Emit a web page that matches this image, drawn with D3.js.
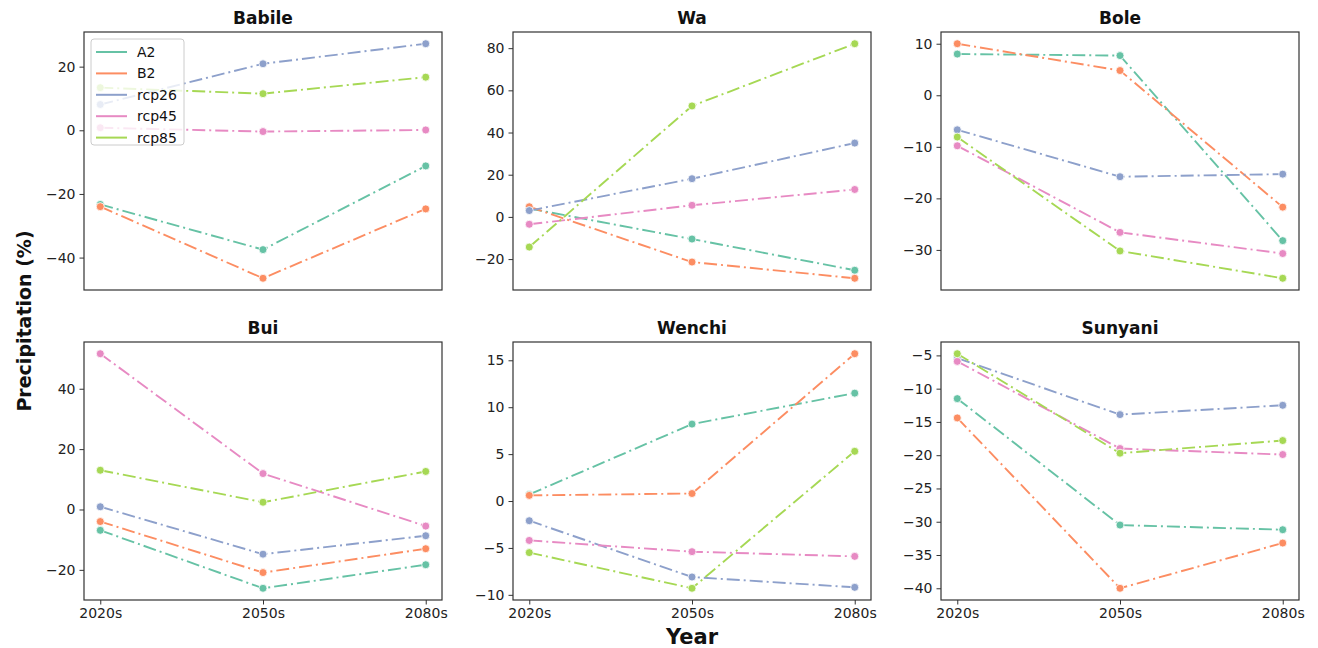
<!DOCTYPE html>
<html>
<head>
<meta charset="utf-8">
<script src="https://cdn.jsdelivr.net/npm/d3@7"></script>
<style>
  body { margin: 0; background: #fff; }
  svg { display: block; font-family: "DejaVu Sans", sans-serif; }
</style>
</head>
<body>
<div id="chart"></div>
<script>
// categories
const years = ["2020s", "2050s", "2080s"];
const scenarios = ["A2", "B2", "rcp26", "rcp45", "rcp85"];
const stations = ["Babile", "Wa", "Bole", "Bui", "Wenchi", "Sunyani"];
const colors = ["#66c2a5", "#fc8d62", "#8da0cb", "#e78ac3", "#a6d854"];

// precipitation change (%) per scenario, values for 2020s / 2050s / 2080s
const babile = [[-23.3, -37.5, -11.2], [-24.0, -46.5, -24.7], [8.1, 20.9, 27.2], [0.8, -0.4, 0.1], [13.4, 11.5, 16.7]];
const wa = [[4.0, -10.5, -25.3], [4.8, -21.4, -29.1], [3.0, 18.1, 35.0], [-3.5, 5.5, 13.0], [-14.3, 52.6, 82.1]];
const bole = [[8.0, 7.7, -28.2], [10.0, 4.8, -21.7], [-6.7, -15.8, -15.3], [-9.8, -26.6, -30.7], [-8.1, -30.2, -35.5]];
const bui = [[-6.9, -26.1, -18.3], [-4.0, -20.9, -13.0], [0.9, -14.8, -8.7], [51.6, 11.9, -5.5], [13.0, 2.4, 12.6]];
const wenchi = [[0.7, 8.2, 11.5], [0.6, 0.8, 15.7], [-2.1, -8.1, -9.2], [-4.2, -5.4, -5.9], [-5.5, -9.3, 5.3]];
const sunyani = [[-11.5, -30.5, -31.2], [-14.4, -40.0, -33.2], [-5.4, -13.9, -12.5], [-5.9, -19.0, -19.9], [-4.75, -19.7, -17.8]];

// y tick values per panel
const babileTicks = [-40, -20, 0, 20];
const waTicks = [-20, 0, 20, 40, 60, 80];
const boleTicks = [-30, -20, -10, 0, 10];
const buiTicks = [-20, 0, 20, 40];
const wenchiTicks = [-10, -5, 0, 5, 10, 15];
const sunyaniTicks = [-40, -35, -30, -25, -20, -15, -10, -5];

const panelValues = [babile, wa, bole, bui, wenchi, sunyani];
const panelTicks = [babileTicks, waTicks, boleTicks, buiTicks, wenchiTicks, sunyaniTicks];

const W = 1318, H = 648;
const colLeft = [84, 513, 941];
const rowTop = [32, 342];
const pw = 358, ph = 258;
const font = "DejaVu Sans, sans-serif";

const svg = d3.select("#chart").append("svg")
    .attr("width", W)
    .attr("height", H);

function styleAxis(axisG) {
    axisG.attr("font-family", font);
    axisG.select(".domain").remove();
    axisG.selectAll("line").attr("stroke", "#333").attr("stroke-width", 1);
    axisG.selectAll("text").attr("font-size", 14).attr("fill", "#222");
}

function drawPanel(i) {
    const col = i % 3, row = Math.floor(i / 3);
    const values = panelValues[i];
    const g = svg.append("g")
        .attr("class", "panelG")
        .attr("transform", "translate(" + colLeft[col] + "," + rowTop[row] + ")");

    // matplotlib style 5% margins on both axes
    const xm = pw * 0.1 / 2.2;
    const xScale = d3.scalePoint().domain(years).range([xm, pw - xm]);
    const all = values.flat();
    const lo = d3.min(all), hi = d3.max(all);
    const pad = (hi - lo) * 0.05;
    const yScale = d3.scaleLinear().domain([lo - pad, hi + pad]).range([ph, 0]);

    g.append("g")
        .attr("class", "yAxisG")
        .call(d3.axisLeft(yScale).tickValues(panelTicks[i]).tickSize(4.5).tickPadding(4))
        .call(styleAxis);

    // x axis labels only on the bottom row
    if (row === 1) {
        g.append("g")
            .attr("class", "xAxisG")
            .attr("transform", "translate(0," + ph + ")")
            .call(d3.axisBottom(xScale).tickSize(4.5).tickPadding(4))
            .call(styleAxis);
    }

    const line = d3.line()
        .x((d, j) => xScale(years[j]))
        .y(d => yScale(d));

    const seriesG = g.selectAll(".seriesG")
        .data(values)
        .join("g")
        .attr("class", "seriesG");

    seriesG.append("path")
        .attr("d", d => line(d))
        .attr("fill", "none")
        .attr("stroke", (d, k) => colors[k])
        .attr("stroke-width", 1.9)
        .attr("stroke-dasharray", "13,4,2,4");

    seriesG.selectAll("circle")
        .data((d, k) => d.map((v, j) => ({v: v, j: j, k: k})))
        .join("circle")
        .attr("cx", d => xScale(years[d.j]))
        .attr("cy", d => yScale(d.v))
        .attr("r", 4)
        .attr("fill", d => colors[d.k])
        .attr("stroke", "#fff")
        .attr("stroke-width", 0.8);

    // frame
    g.append("rect")
        .attr("width", pw)
        .attr("height", ph)
        .attr("fill", "none")
        .attr("stroke", "#333")
        .attr("stroke-width", 1.2);

    g.append("text")
        .attr("x", pw / 2)
        .attr("y", -8)
        .attr("text-anchor", "middle")
        .attr("font-size", 17)
        .attr("font-weight", "bold")
        .attr("fill", "#111")
        .text(stations[i]);

    if (i === 0) drawLegend(g);
}

function drawLegend(g) {
    const lg = g.append("g")
        .attr("class", "legendG")
        .attr("transform", "translate(7,7)");
    lg.append("rect")
        .attr("width", 93)
        .attr("height", 106)
        .attr("rx", 3)
        .attr("fill", "#fff")
        .attr("fill-opacity", 0.8)
        .attr("stroke", "#ccc")
        .attr("stroke-width", 1);
    const item = lg.selectAll(".legItem")
        .data(scenarios)
        .join("g")
        .attr("class", "legItem")
        .attr("transform", (d, k) => "translate(0," + (13 + k * 21.4) + ")");
    item.append("line")
        .attr("x1", 5).attr("x2", 36)
        .attr("stroke", (d, k) => colors[k])
        .attr("stroke-width", 2);
    item.append("text")
        .attr("x", 46)
        .attr("dy", "0.35em")
        .attr("font-size", 14)
        .attr("fill", "#111")
        .text(d => d);
}

stations.forEach((s, i) => drawPanel(i));

svg.append("text")
    .attr("transform", "translate(31,321) rotate(-90)")
    .attr("text-anchor", "middle")
    .attr("font-size", 19)
    .attr("font-weight", "bold")
    .attr("fill", "#111")
    .text("Precipitation (%)");

svg.append("text")
    .attr("x", 692)
    .attr("y", 644)
    .attr("text-anchor", "middle")
    .attr("font-size", 21)
    .attr("font-weight", "bold")
    .attr("fill", "#111")
    .text("Year");
</script>
</body>
</html>
